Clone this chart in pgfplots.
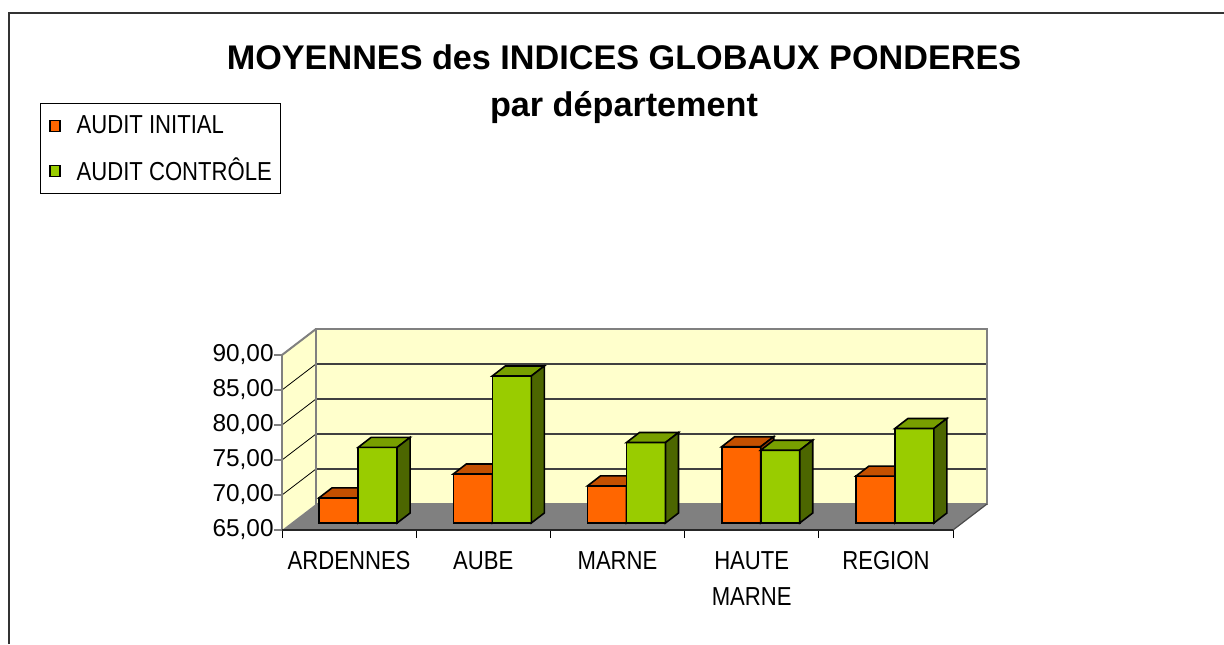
\documentclass[border=0pt]{standalone}
\usepackage{fontspec}
\setmainfont{Liberation Sans}
\newfontfamily\narrow{Liberation Sans}[FakeStretch=0.85]
\usepackage{pgfplots}
\usepackage{pgfplotstable}
\pgfplotsset{compat=1.18}
\definecolor{ofront}{HTML}{FF6600}
\definecolor{otop}{HTML}{C45000}
\definecolor{oside}{HTML}{993D00}
\definecolor{gfront}{HTML}{99CC00}
\definecolor{gtop}{HTML}{789F00}
\definecolor{gside}{HTML}{4C6600}
\definecolor{wall}{HTML}{FFFFCC}
\definecolor{floorc}{HTML}{808080}
\definecolor{framec}{HTML}{333333}

% top and side faces of a bar, drawn at the top front-right corner
\pgfdeclareplotmark{otopside}{%
  \pgfsetlinewidth{0.8pt}\pgfsetstrokecolor{black}\pgfsetmiterjoin
  \pgfsetfillcolor{otop}%
  \pgfpathmoveto{\pgfpoint{-15pt}{0pt}}%
  \pgfpathlineto{\pgfpoint{4.5pt}{0pt}}%
  \pgfpathlineto{\pgfpoint{11pt}{5pt}}%
  \pgfpathlineto{\pgfpoint{-8.5pt}{5pt}}%
  \pgfpathclose\pgfusepath{fill,stroke}%
  \pgfsetfillcolor{oside}%
  \pgfpathmoveto{\pgfpoint{4.5pt}{0pt}}%
  \pgfpathlineto{\pgfpoint{11pt}{5pt}}%
  \pgfpathlineto{\pgfpoint{11pt}{5pt-3.5pt*\hh}}%
  \pgfpathlineto{\pgfpoint{4.5pt}{-3.5pt*\hh}}%
  \pgfpathclose\pgfusepath{fill,stroke}%
}
\pgfdeclareplotmark{gtopside}{%
  \pgfsetlinewidth{0.8pt}\pgfsetstrokecolor{black}\pgfsetmiterjoin
  \pgfsetfillcolor{gtop}%
  \pgfpathmoveto{\pgfpoint{4.5pt}{0pt}}%
  \pgfpathlineto{\pgfpoint{24pt}{0pt}}%
  \pgfpathlineto{\pgfpoint{30.5pt}{5pt}}%
  \pgfpathlineto{\pgfpoint{11pt}{5pt}}%
  \pgfpathclose\pgfusepath{fill,stroke}%
  \pgfsetfillcolor{gside}%
  \pgfpathmoveto{\pgfpoint{24pt}{0pt}}%
  \pgfpathlineto{\pgfpoint{30.5pt}{5pt}}%
  \pgfpathlineto{\pgfpoint{30.5pt}{5pt-3.5pt*\hh}}%
  \pgfpathlineto{\pgfpoint{24pt}{-3.5pt*\hh}}%
  \pgfpathclose\pgfusepath{fill,stroke}%
}

\pgfplotstableread{
x o g
0 68.6 75.8
1 72.0 86.0
2 70.3 76.5
3 75.9 75.4
4 71.7 78.5
}\data

\begin{document}
\begin{tikzpicture}
\useasboundingbox (0,0) rectangle (612pt,322pt);
\fill[white] (0,0) rectangle (612pt,322pt);
\draw[framec, line width=1pt] (4.5pt,0) -- (4.5pt,315.65pt) -- (612pt,315.65pt);
\node[anchor=base, font=\bfseries\fontsize{17.1pt}{20pt}\selectfont] at (312pt,287pt) {MOYENNES des INDICES GLOBAUX PONDERES};
\node[anchor=base, font=\bfseries\fontsize{17.1pt}{20pt}\selectfont] at (312pt,264pt) {par département};
\begin{axis}[
  at={(141pt,57pt)}, anchor=south west,
  scale only axis, width=335.5pt, height=87.5pt,
  xmin=-0.5, xmax=4.5, ymin=-1, ymax=24,
  enlargelimits=false, clip=false, clip mode=individual,
  axis line style={draw=none},
  xtick={0,1,2,3,4},
  xticklabels={ARDENNES,AUBE,MARNE,HAUTE\\MARNE,REGION},
  minor xtick={-0.5,0.5,1.5,2.5,3.5,4.5},
  ytick={-1,4,9,14,19,24},
  yticklabels={{65,00},{70,00},{75,00},{80,00},{85,00},{90,00}},
  xtick pos=left, ytick pos=left,
  tick align=outside,
  major tick length=4pt, minor tick length=4pt,
  major x tick style={draw=none},
  minor x tick style={black, line width=0.5pt},
  major y tick style={floorc, line width=0.6pt},
  xticklabel style={font=\narrow\fontsize{13pt}{18pt}\selectfont, align=center, anchor=north, inner sep=0pt, yshift=-6.5pt},
  yticklabel style={font=\fontsize{12.2pt}{14pt}\selectfont, anchor=east, inner sep=0pt},
  legend style={at={(-0.3607,2.44)}, anchor=north west, draw=black, line width=0.5pt,
    inner xsep=4.5pt, inner ysep=0pt, row sep=0pt, column sep=8pt,
    font=\narrow\fontsize{13pt}{15pt}\selectfont,
    nodes={inner sep=0pt, minimum height=22.5pt, anchor=west}},
  legend cell align=left,
]
% walls and floor
\fill[wall] (axis cs:-0.24665,2.7143) rectangle (axis cs:4.75335,27.7143);
\fill[wall] (axis cs:-0.5,-1) -- (axis cs:-0.24665,2.7143) -- (axis cs:-0.24665,27.7143) -- (axis cs:-0.5,24) -- cycle;
\draw[black!75, line width=0.6pt] (axis cs:-0.24665,7.7143) -- (axis cs:4.75335,7.7143);
\draw[black!75, line width=0.6pt] (axis cs:-0.24665,12.7143) -- (axis cs:4.75335,12.7143);
\draw[black!75, line width=0.6pt] (axis cs:-0.24665,17.7143) -- (axis cs:4.75335,17.7143);
\draw[black!75, line width=0.6pt] (axis cs:-0.24665,22.7143) -- (axis cs:4.75335,22.7143);
\draw[black, line width=0.4pt] (axis cs:-0.5,4) -- (axis cs:-0.24665,7.7143);
\draw[black, line width=0.4pt] (axis cs:-0.5,9) -- (axis cs:-0.24665,12.7143);
\draw[black, line width=0.4pt] (axis cs:-0.5,14) -- (axis cs:-0.24665,17.7143);
\draw[black, line width=0.4pt] (axis cs:-0.5,19) -- (axis cs:-0.24665,22.7143);
\draw[floorc, line width=1pt] (axis cs:-0.24665,2.7143) rectangle (axis cs:4.75335,27.7143);
\draw[floorc, line width=1pt] (axis cs:-0.5,24) -- (axis cs:-0.24665,27.7143);
\fill[floorc] (axis cs:-0.5,-1) -- (axis cs:4.5,-1) -- (axis cs:4.75335,2.7143) -- (axis cs:-0.24665,2.7143) -- cycle;
\draw[black!70, line width=0.6pt] (axis cs:4.5,-1) -- (axis cs:4.75335,2.7143);
\draw[floorc, line width=1pt] (axis cs:-0.5,-1) -- (axis cs:-0.5,24);
\draw[black!85, line width=1pt] (axis cs:-0.5,-1) -- (axis cs:4.5,-1);
% bars
\addplot[ybar, bar width=19.5pt, bar shift=-5.25pt, fill=ofront, draw=black, line width=0.8pt,
  legend image code/.code={\draw[fill=ofront, draw=black, line width=0.6pt] (0pt,-2.75pt) rectangle (5pt,2.75pt);}]
  table[x=x, y expr=\thisrow{o}-65] {\data};
\addlegendentry{AUDIT INITIAL}
\addplot[forget plot, only marks, mark=otopside, visualization depends on={\thisrow{o}-65 \as \hh}]
  table[x=x, y expr=\thisrow{o}-65] {\data};
\addplot[ybar, bar width=19.5pt, bar shift=14.25pt, fill=gfront, draw=black, line width=0.8pt,
  legend image code/.code={\draw[fill=gfront, draw=black, line width=0.6pt] (0pt,-2.75pt) rectangle (5pt,2.75pt);}]
  table[x=x, y expr=\thisrow{g}-65] {\data};
\addlegendentry{AUDIT CONTRÔLE}
\addplot[forget plot, only marks, mark=gtopside, visualization depends on={\thisrow{g}-65 \as \hh}]
  table[x=x, y expr=\thisrow{g}-65] {\data};
\end{axis}
\end{tikzpicture}
\end{document}
